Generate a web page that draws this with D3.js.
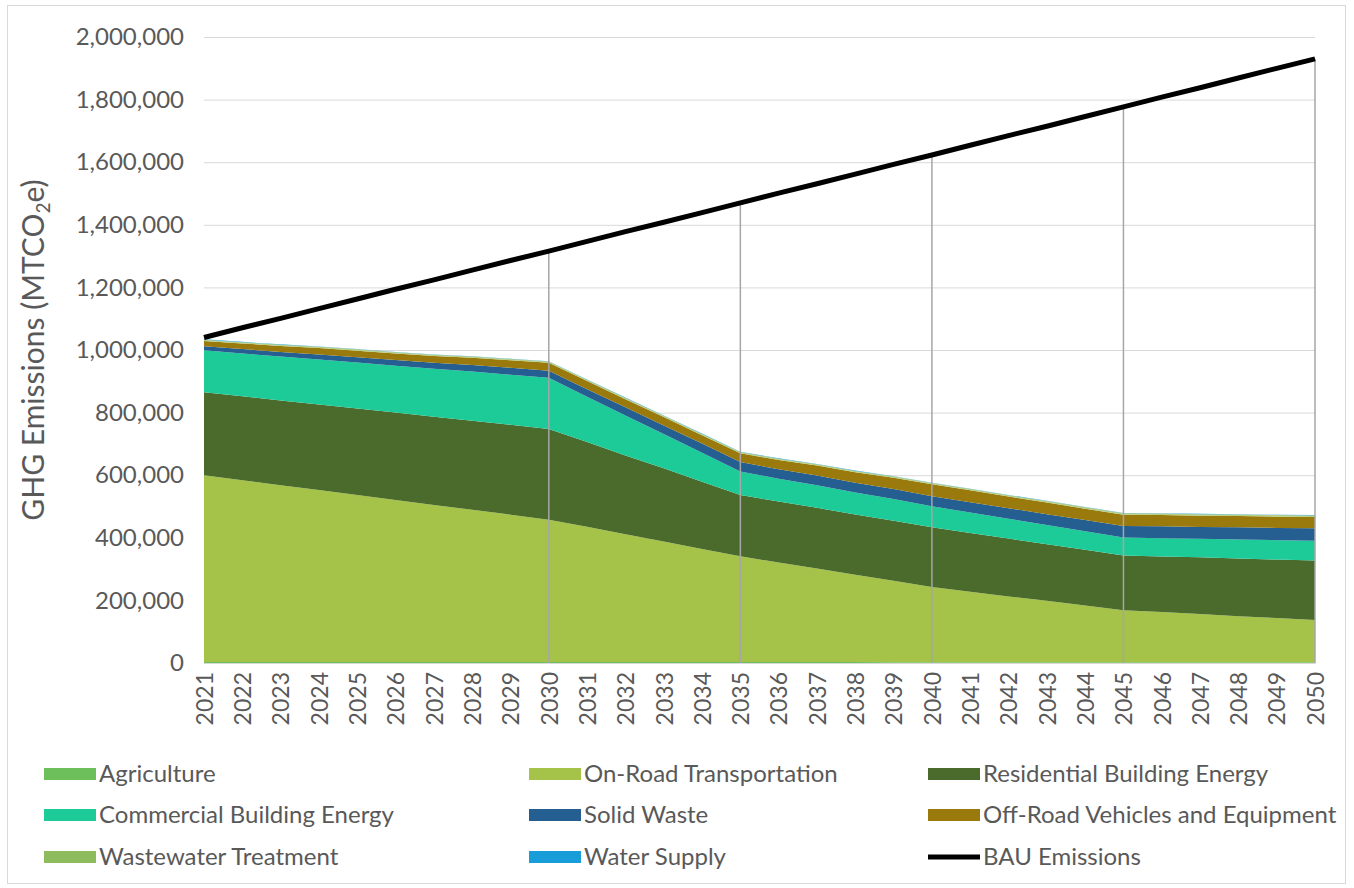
<!DOCTYPE html>
<html>
<head>
<meta charset="utf-8">
<script src="https://cdn.jsdelivr.net/npm/d3@7"></script>
<style>
  html, body { margin: 0; padding: 0; background: #fff; }
  svg { display: block; font-family: Lato, "Open Sans", sans-serif; }
</style>
</head>
<body>
<svg id="chart" width="1354" height="888"></svg>
<script>
// Years on the horizontal axis
const years = [2021,2022,2023,2024,2025,2026,2027,2028,2029,2030,
               2031,2032,2033,2034,2035,2036,2037,2038,2039,2040,
               2041,2042,2043,2044,2045,2046,2047,2048,2049,2050];

// Sector emissions (MTCO2e), stacked bottom to top
const agriculture = [3000,3000,3000,3000,3000,3000,3000,3000,3000,3000,
                     3000,3000,3000,3000,2800,2800,2800,2800,2700,2700,
                     2700,2700,2600,2600,2600,2600,2600,2500,2500,2500];
const onRoad = [597000,581000,565000,550000,534000,518000,502000,487000,471000,455000,
                432000,408000,385000,361000,338000,318000,299000,279000,260000,240000,
                225000,210000,196000,181000,166000,160000,154000,147000,141000,135000];
const residential = [265000,268000,271000,273000,276000,279000,282000,284000,287000,290000,
                     271000,252000,234000,215000,196000,195000,194000,193000,192000,191000,
                     188000,185000,181000,178000,175000,178000,181000,184000,187000,190000];
const commercial = [134000,137000,140000,144000,147000,150000,153000,157000,160000,163000,
                    145000,128000,110000,93000,75000,73000,72000,70000,69000,67000,
                    65000,63000,61000,59000,57000,58000,59000,61000,62000,63000];
const solidWaste = [13000,14000,15000,16000,17000,18000,19000,21000,22000,23000,
                    24000,26000,27000,29000,30000,30000,31000,31000,32000,32000,
                    33000,34000,35000,36000,37000,38000,38000,39000,39000,40000];
const offRoad = [17000,18000,19000,20000,21000,21000,22000,23000,24000,25000,
                 26000,26000,27000,27000,28000,30000,32000,34000,36000,38000,
                 38000,37000,37000,36000,36000,36000,36000,36000,36000,36000];
const wastewater = [4000,4000,4000,4000,4000,4000,4000,4000,4000,4000,
                    4000,4000,4000,4000,4000,4000,4000,4000,4000,4000,
                    4000,4000,5000,5000,5000,5000,5000,5000,5000,5000];
const waterSupply = [1000,1000,1000,1000,1000,1000,1000,1000,1000,1000,
                     1000,1000,1000,1000,1000,1000,1000,1000,1000,1000,
                     1000,1000,1000,1000,1000,1000,1000,1000,1000,1000];

// Business-as-usual projection
const bau = [1040000,1071000,1101000,1132000,1163000,1194000,1224000,1255000,1286000,1316000,
             1347000,1378000,1408000,1439000,1470000,1501000,1531000,1562000,1593000,1623000,
             1654000,1685000,1715000,1746000,1777000,1808000,1838000,1869000,1900000,1930000];

// Years marked with drop lines from the BAU line
const dropYears = [2030, 2035, 2040, 2045, 2050];

// Y axis ticks
const yTicks = [0,200000,400000,600000,800000,1000000,1200000,1400000,1600000,1800000,2000000];

const sectorNames = ["Agriculture","On-Road Transportation","Residential Building Energy",
                     "Commercial Building Energy","Solid Waste","Off-Road Vehicles and Equipment",
                     "Wastewater Treatment","Water Supply"];
const sectorValues = [agriculture,onRoad,residential,commercial,solidWaste,offRoad,wastewater,waterSupply];
const sectorColors = ["#6CBF5B","#A5C249","#4A6B2C","#1DCB99","#255E91","#9A7A0C","#B5CF82","#199DD9"];

const svg = d3.select("#chart");
const W = 1354, H = 888;
const plot = { left: 204, right: 1315, top: 37, bottom: 663 };

// Outer chart frame
svg.append("rect")
  .attr("x", 7.5).attr("y", 5.5).attr("width", W - 16).attr("height", H - 10)
  .attr("fill", "#fff").attr("stroke", "#d9d9d9").attr("stroke-width", 1);

const x = d3.scaleLinear().domain([2021, 2050]).range([plot.left, plot.right]);
const y = d3.scaleLinear().domain([0, 2000000]).range([plot.bottom, plot.top]);

// Horizontal gridlines
const yAxis = d3.axisLeft(y).tickValues(yTicks)
  .tickSize(-(plot.right - plot.left))
  .tickPadding(20)
  .tickFormat(d3.format(","));
const gy = svg.append("g").attr("transform", `translate(${plot.left},0)`).call(yAxis);
gy.select(".domain").remove();
gy.selectAll(".tick line").attr("stroke", "#d9d9d9").attr("stroke-width", 1);
gy.selectAll(".tick text")
  .attr("fill", "#595959").attr("font-size", 24).attr("font-family", "Lato, sans-serif");

// Stacked areas
const table = years.map((yr, i) => {
  const row = { year: yr };
  sectorNames.forEach((n, k) => row[n] = sectorValues[k][i]);
  return row;
});
const stack = d3.stack().keys(sectorNames);
const series = stack(table);
const area = d3.area()
  .x(d => x(d.data.year))
  .y0(d => y(d[0]))
  .y1(d => y(d[1]));
svg.append("g").selectAll("path")
  .data(series)
  .join("path")
  .attr("d", area)
  .attr("fill", (d, i) => sectorColors[i]);

// Category axis
const xAxis = d3.axisBottom(x).tickValues(years).tickSize(0).tickFormat(d3.format("d"));
const gx = svg.append("g").attr("transform", `translate(0,${plot.bottom})`).call(xAxis);
gx.select(".domain").attr("stroke", "#d9d9d9");
gx.selectAll(".tick text")
  .attr("fill", "#595959").attr("font-size", 23).attr("font-family", "Lato, sans-serif")
  .attr("text-anchor", "end")
  .attr("transform", "rotate(-90)")
  .attr("x", -9).attr("y", 0).attr("dy", "0.36em");

// Drop lines from BAU to the axis
svg.append("g").selectAll("line")
  .data(dropYears)
  .join("line")
  .attr("x1", d => x(d)).attr("x2", d => x(d))
  .attr("y1", d => y(bau[years.indexOf(d)]))
  .attr("y2", plot.bottom)
  .attr("stroke", "#a6a6a6").attr("stroke-width", 1.5);

// BAU line
const line = d3.line().x((d, i) => x(years[i])).y(d => y(d));
svg.append("path")
  .datum(bau)
  .attr("d", line)
  .attr("fill", "none")
  .attr("stroke", "#000")
  .attr("stroke-width", 5)
  .attr("stroke-linecap", "butt");

// Y axis title
const yt = svg.append("text")
  .attr("transform", `translate(44,${(plot.top + plot.bottom) / 2 + 0}) rotate(-90)`)
  .attr("text-anchor", "middle")
  .attr("fill", "#595959").attr("font-size", 30).attr("font-family", "Lato, sans-serif");
yt.append("tspan").text("GHG Emissions (MTCO");
yt.append("tspan").text("2").attr("font-size", 19).attr("dy", 6);
yt.append("tspan").text("e)").attr("dy", -6);

// Legend
const legendItems = [
  { name: "Agriculture", color: sectorColors[0], type: "area" },
  { name: "On-Road Transportation", color: sectorColors[1], type: "area" },
  { name: "Residential Building Energy", color: sectorColors[2], type: "area" },
  { name: "Commercial Building Energy", color: sectorColors[3], type: "area" },
  { name: "Solid Waste", color: sectorColors[4], type: "area" },
  { name: "Off-Road Vehicles and Equipment", color: sectorColors[5], type: "area" },
  { name: "Wastewater Treatment", color: "#8DBB5E", type: "area" },
  { name: "Water Supply", color: sectorColors[7], type: "area" },
  { name: "BAU Emissions", color: "#000", type: "line" }
];
const colX = [44, 529, 928];
const rowY = [774, 815, 857];
const lg = svg.append("g").selectAll("g")
  .data(legendItems)
  .join("g")
  .attr("transform", (d, i) => `translate(${colX[i % 3]},${rowY[Math.floor(i / 3)]})`);
lg.filter(d => d.type === "area").append("rect")
  .attr("x", 0).attr("y", -6).attr("width", 52).attr("height", 12)
  .attr("fill", d => d.color);
lg.filter(d => d.type === "line").append("line")
  .attr("x1", 0).attr("x2", 52).attr("y1", 0).attr("y2", 0)
  .attr("stroke", "#000").attr("stroke-width", 5);
lg.append("text")
  .attr("x", 55).attr("y", 0).attr("dy", "0.35em")
  .attr("fill", "#595959").attr("font-size", 24).attr("font-family", "Lato, sans-serif")
  .text(d => d.name);
</script>
</body>
</html>
